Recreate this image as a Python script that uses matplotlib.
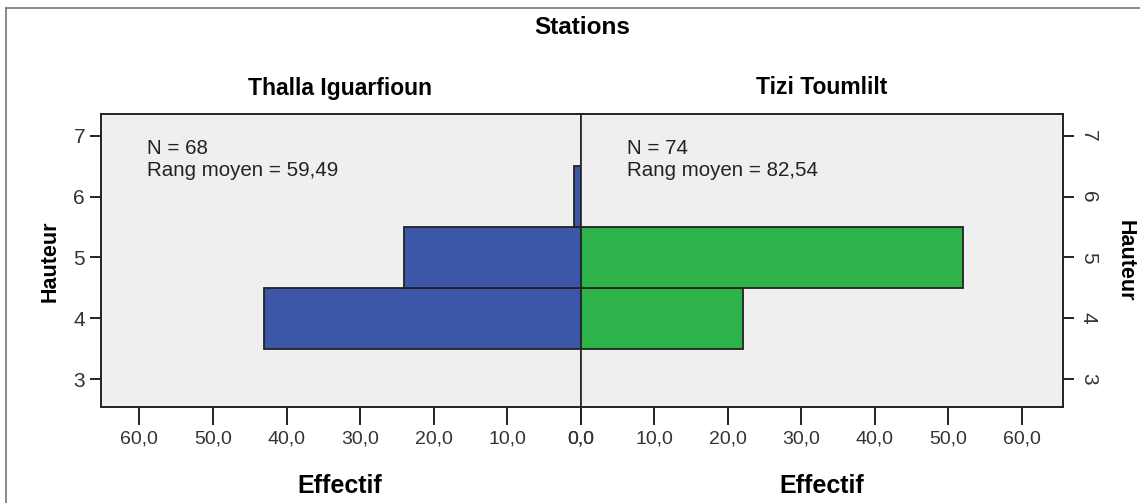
import matplotlib
matplotlib.use('Agg')
import matplotlib.pyplot as plt
from matplotlib.lines import Line2D

# histogram bins of Hauteur (width 1, centred on integers)
bin_centers = [4, 5, 6]
left_counts = [43, 24, 1]      # Thalla Iguarfioun
right_counts = [22, 52, 0]     # Tizi Toumlilt
left_name = 'Thalla Iguarfioun'
right_name = 'Tizi Toumlilt'
left_stats = ['N = 68', 'Rang moyen = 59,49']
right_stats = ['N = 74', 'Rang moyen = 82,54']
x_ticks = [0, 10, 20, 30, 40, 50, 60]
y_ticks = [3, 4, 5, 6, 7]

blue = '#3C56A8'
green = '#2EB34B'
panel = '#EFEFEF'
ink = '#222222'
bold_fam = ['Liberation Sans', 'DejaVu Sans']
plt.rcParams['font.family'] = ['Liberation Sans', 'DejaVu Sans']

W, H = 1140, 503
fig = plt.figure(figsize=(W / 100, H / 100), dpi=100)

def fx(px):
    return px / W

def fy(py):
    return 1 - py / H

axL = fig.add_axes([fx(101), fy(407), fx(480), (407 - 114) / H])
axR = fig.add_axes([fx(581), fy(407), fx(482), (407 - 114) / H])

for ax, counts, color in ((axL, left_counts, blue), (axR, right_counts, green)):
    ax.set_facecolor(panel)
    bars = [(c, v) for c, v in zip(bin_centers, counts) if v > 0]
    ax.barh([b[0] for b in bars], [b[1] for b in bars], height=1.0,
            color=color, edgecolor=ink, linewidth=1.3, zorder=3)
    ax.set_ylim(2.54, 7.36)
    ax.set_xticks(x_ticks)
    ax.set_xticklabels(['%d,0' % t for t in x_ticks])
    ax.set_yticks(y_ticks)
    for s in ax.spines.values():
        s.set_color(ink)
        s.set_linewidth(1.4)
    ax.tick_params(axis='x', length=13, width=1.4, color=ink, pad=4,
                   labelsize=14, labelcolor='#333333')
    ax.tick_params(axis='y', length=8, width=1.4, color=ink,
                   labelsize=15, labelcolor='#333333')

axL.set_xlim(65.2, 0)
axR.set_xlim(0, 65.6)
axR.spines['left'].set_linewidth(1.2)
axL.spines['right'].set_linewidth(1.2)

axL.yaxis.set_ticks_position('left')
axR.yaxis.set_ticks_position('right')
for lab in axR.get_yticklabels():
    lab.set_rotation(270)
    lab.set_va('center')

# y axis titles
fig.text(fx(50), fy(261), 'Hauteur', rotation=90, ha='center', va='center',
         fontsize=15.5, fontweight='bold', family=bold_fam)
fig.text(fx(1125), fy(261), 'Hauteur', rotation=270, ha='center', va='center',
         fontsize=15.5, fontweight='bold', family=bold_fam)

# titles
fig.text(fx(582), fy(27), 'Stations', ha='center', va='center',
         fontsize=17.5, fontweight='bold', family=bold_fam)
fig.text(fx(340), fy(88), left_name, ha='center', va='center',
         fontsize=16.5, fontweight='bold', family=bold_fam)
fig.text(fx(822), fy(88), right_name, ha='center', va='center',
         fontsize=16.5, fontweight='bold', family=bold_fam)
fig.text(fx(340), fy(486), 'Effectif', ha='center', va='center',
         fontsize=18, fontweight='bold', family=bold_fam)
fig.text(fx(822), fy(486), 'Effectif', ha='center', va='center',
         fontsize=18, fontweight='bold', family=bold_fam)

# statistics
for x0, stats in ((147, left_stats), (627, right_stats)):
    fig.text(fx(x0), fy(148), stats[0], ha='left', va='center',
             fontsize=14.8, color='#222222')
    fig.text(fx(x0), fy(171), stats[1], ha='left', va='center',
             fontsize=14.8, color='#222222')

# outer frame lines
fig.add_artist(Line2D([fx(6), 1], [fy(8), fy(8)], color='#777777', lw=1.2))
fig.add_artist(Line2D([fx(6), fx(6)], [fy(8), 0], color='#777777', lw=1.2))

fig.savefig('out.png', dpi=100)
